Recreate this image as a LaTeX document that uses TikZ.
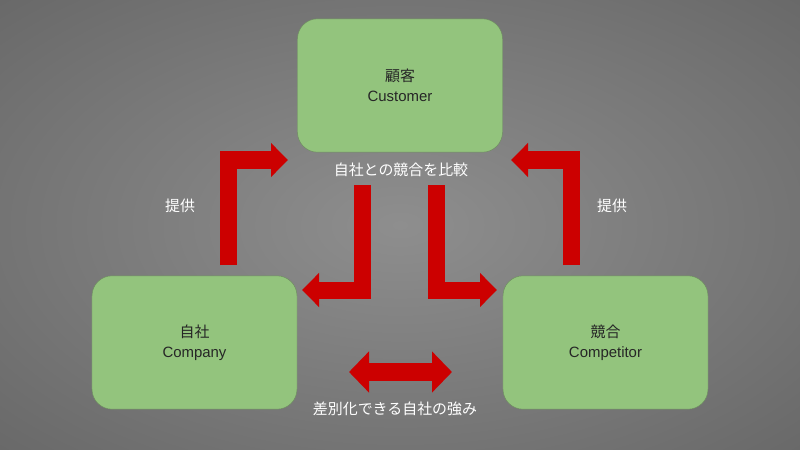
\documentclass[tikz,border=0pt]{standalone}
\usepackage{fontspec}
\setmainfont{Liberation Sans}
\newfontfamily\jp{Noto Sans CJK JP}
\usepackage{tikz}
\usetikzlibrary{arrows.meta}

\definecolor{bgin}{HTML}{8E8E8E}
\definecolor{bgout}{HTML}{444444}
\definecolor{boxgreen}{HTML}{93C47D}
\definecolor{boxline}{HTML}{6E8C60}
\definecolor{arrowred}{HTML}{CC0000}
\pgfdeclareradialshading{bgglow}{\pgfpoint{0bp}{0bp}}{color(0bp)=(bgin); color(50bp)=(bgout)}

\begin{document}
\begin{tikzpicture}[x=0.03cm, y=-0.03cm]
    \useasboundingbox (0,0) rectangle (800,450);
    \begin{scope}
    \clip (0,0) rectangle (800,450);
    \shade[shading=bgglow] (400,225) ellipse [x radius=16.97cm, y radius=9.55cm];
    \end{scope}

    \begin{scope}[shape=rectangle]
    \tikzstyle{every node}=[draw=boxline, fill=boxgreen, rounded corners=0.6cm, minimum width=6.15cm, minimum height=4cm, align=center, text=black!85, font=\fontsize{12.75}{17}\selectfont]
    \node (customer) at (400, 85.5) {{\jp 顧客}\\Customer};
    \node (company) at (194.5, 342.5) {{\jp 自社}\\Company};
    \node (competitor) at (605.5, 342.5) {{\jp 競合}\\Competitor};
    \end{scope}

    \begin{scope}
    \tikzstyle{every node}=[text=white, font=\jp\fontsize{12.75}{16}\selectfont]
    \node (compare) at (401, 170) {自社との競合を比較};
    \node (offerl) at (180, 206) {提供};
    \node (offerr) at (612, 206) {提供};
    \node (strength) at (395, 409) {差別化できる自社の強み};
    \end{scope}

    \coordinate (a1) at (228.5, 265);
    \coordinate (a1t) at (288, 160);
    \coordinate (a2) at (362.5, 185);
    \coordinate (a2t) at (302, 290);
    \coordinate (a3) at (436.5, 185);
    \coordinate (a3t) at (497, 290);
    \coordinate (a4) at (571.5, 265);
    \coordinate (a4t) at (511, 160);
    \coordinate (dl) at (349, 372);
    \coordinate (dr) at (452, 372);

  \begin{scope}[draw=arrowred, line width=0.51cm, line join=miter, line cap=butt, -{Triangle[length=0.51cm, width=0.99cm]}]
    \draw (a1) |- (a1t);
    \draw (a2) |- (a2t);
    \draw (a3) |- (a3t);
    \draw (a4) |- (a4t);
    \draw[line width=0.54cm, {Triangle[length=0.6cm, width=1.2cm]}-{Triangle[length=0.6cm, width=1.2cm]}] (dl) -- (dr);
  \end{scope}

  \end{tikzpicture}
\end{document}
